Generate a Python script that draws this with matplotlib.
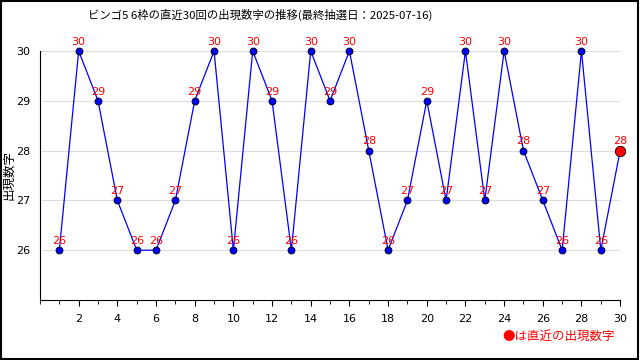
import matplotlib
matplotlib.use("Agg")
import matplotlib.pyplot as plt
from matplotlib.ticker import MultipleLocator
from matplotlib.patches import Rectangle

plt.rcParams['font.family'] = ['Noto Sans CJK JP', 'DejaVu Sans']

title = "ビンゴ5 6枠の直近30回の出現数字の推移(最終抽選日：2025-07-16)"
draws = list(range(1, 31))
numbers = [26, 30, 29, 27, 26, 26, 27, 29, 30, 26,
           30, 29, 26, 30, 29, 30, 28, 26, 27, 29,
           27, 30, 27, 30, 28, 27, 26, 30, 26, 28]

fig = plt.figure(figsize=(6.4, 3.6), dpi=100)
ax = fig.add_axes([0.0625, 0.1667, 0.9065, 0.6917])

ax.plot(draws, numbers, color="blue", lw=0.9, marker="o", ms=5,
        mfc="blue", mec="black", mew=0.6, zorder=3, clip_on=False)
# 最新の回は赤で大きく
ax.plot(draws[-1], numbers[-1], marker="o", ms=7.5, mfc="red", mec="black",
        mew=0.6, ls="none", zorder=4, clip_on=False)

for x, y in zip(draws, numbers):
    ax.annotate(str(y), (x, y), xytext=(0, 3), textcoords="offset points",
                ha="center", va="bottom", color="red", fontsize=8,
                family="DejaVu Sans", zorder=5, annotation_clip=False)

ax.set_xlim(0, 30)
ax.set_ylim(25, 30)
ax.xaxis.set_minor_locator(MultipleLocator(1))
ax.set_xticks(range(2, 31, 2))
ax.set_yticks([26, 27, 28, 29, 30])
ax.tick_params(axis="x", which="both", direction="out", length=4, labelsize=8, pad=6)
ax.tick_params(axis="x", which="minor", length=3)
ax.tick_params(axis="y", length=0, labelsize=8, pad=7)
for lab in ax.get_xticklabels() + ax.get_yticklabels():
    lab.set_family("DejaVu Sans")
ax.grid(axis="y", color="#dddddd", lw=0.8, zorder=0)
ax.set_axisbelow(True)
ax.spines["top"].set_visible(False)
ax.spines["right"].set_visible(False)
ax.set_ylabel("出現数字", fontsize=9)
ax.yaxis.set_label_coords(-0.043, 0.5)

fig.text(0.406, 0.975, title, ha="center", va="top", fontsize=8.2)
fig.text(0.96, 0.065, "●は直近の出現数字", ha="right", va="center",
         color="red", fontsize=9)

fig.patches.append(Rectangle((0.002, 0.003), 0.995, 0.994, transform=fig.transFigure,
                             fill=False, ec="black", lw=1.5))

fig.savefig("out.png", dpi=100)
